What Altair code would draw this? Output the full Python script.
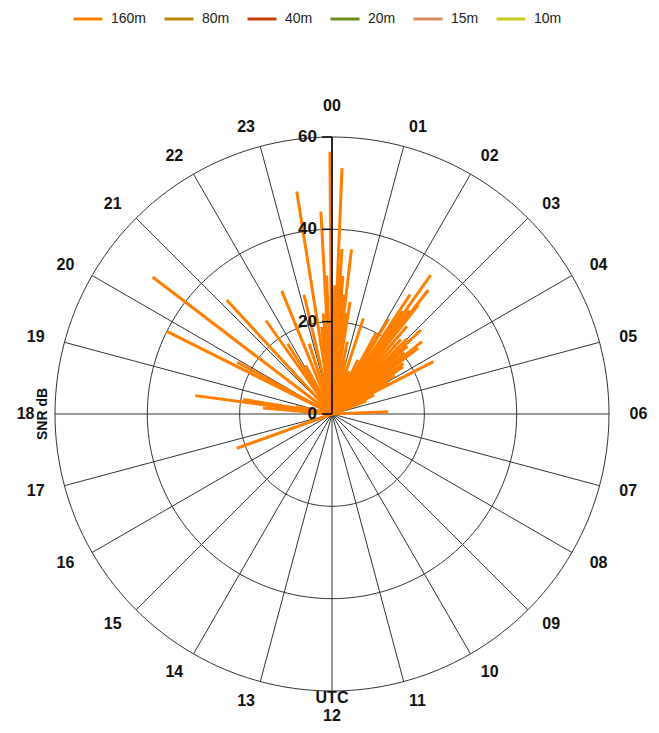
import altair as alt
import pandas as pd

# ---- data ----
spot_hours = [16.68, 18.33, 18.51, 18.62, 18.78, 19.77, 19.91, 20.49, 21.15, 21.65,
              21.85, 22.1, 22.52, 22.8, 23.12, 23.4, 23.55, 23.67, 23.79, 23.85, 23.97,
              0.04, 0.08, 0.155, 0.23, 0.3, 0.38, 0.45, 0.52, 0.61, 0.8, 0.95, 1.21,
              1.45, 1.7, 1.9, 2.05, 2.21, 2.3, 2.36, 2.45, 2.52, 2.56, 2.7, 2.85, 3.0,
              3.11, 3.2, 3.33, 3.41, 3.51, 3.65, 3.76, 3.9, 4.05, 4.18, 4.4, 4.6, 5.85]
spot_snr = [21.9, 15.0, 29.9, 19.5, 8.0, 40.0, 23.4, 48.9, 33.6, 24.8,
            18.0, 12.0, 28.8, 16.0, 26.5, 48.8, 19.0, 21.9, 43.9, 30.0, 56.8,
            24.0, 27.9, 53.3, 35.8, 30.0, 26.0, 35.9, 22.0, 24.6, 16.0, 12.0, 21.8,
            10.0, 13.0, 20.0, 24.0, 30.9, 27.0, 36.9, 28.0, 34.0, 30.1, 25.0, 22.0, 23.0,
            26.5, 22.0, 20.6, 25.0, 23.5, 19.0, 18.5, 16.0, 14.0, 24.7, 10.0, 8.0, 12.2]
spot_band = ["160m"] * len(spot_hours)

bands = ["160m", "80m", "40m", "20m", "15m", "10m"]
band_colors = ["#FF8000", "#B8860B", "#C4400C", "#6B8E23", "#D98B5A", "#C8C81E"]

hour_values = list(range(24))
hour_labels = [f"{h:02d}" for h in hour_values]
rings = [20, 40, 60]
radial_ticks = [0, 20, 40, 60]
ring_degrees = list(range(0, 362, 2))

# ---- scales: same px per unit in x and y ----
PX = 277 / 60.0
W, H = 640, 717
CX, CY = 324, 406
xs = alt.Scale(domain=[-CX / PX, (W - CX) / PX], nice=False, zero=False)
ys = alt.Scale(domain=[-(H - CY) / PX, CY / PX], nice=False, zero=False)
FONT = "Liberation Sans"

spots = pd.DataFrame({"hour": spot_hours, "snr": spot_snr, "band": spot_band})
hours_df = pd.DataFrame({"hour": hour_values, "label": hour_labels})
ring_df = pd.DataFrame([{"ring": r, "deg": d} for r in rings for d in ring_degrees])
tick_df = pd.DataFrame({"v": radial_ticks, "t": [str(v) for v in radial_ticks]})

circles = alt.Chart(ring_df).transform_calculate(
    x="datum.ring*sin(datum.deg*PI/180)", y="datum.ring*cos(datum.deg*PI/180)"
).mark_line(color="#333333", strokeWidth=1).encode(
    x=alt.X("x:Q", scale=xs, axis=None),
    y=alt.Y("y:Q", scale=ys, axis=None),
    detail="ring:N", order="deg:Q")

spokes = alt.Chart(hours_df).transform_calculate(
    x0="0", y0="0",
    x="60*sin(datum.hour*PI/12)", y="60*cos(datum.hour*PI/12)"
).mark_rule(color="#333333", strokeWidth=1).encode(
    x=alt.X("x0:Q", scale=xs, axis=None), y=alt.Y("y0:Q", scale=ys, axis=None),
    x2="x:Q", y2="y:Q")

lines = alt.Chart(spots).transform_calculate(
    x0="0", y0="0",
    x="datum.snr*sin(datum.hour*PI/12)", y="datum.snr*cos(datum.hour*PI/12)"
).mark_rule(strokeWidth=3).encode(
    x=alt.X("x0:Q", scale=xs, axis=None), y=alt.Y("y0:Q", scale=ys, axis=None),
    x2="x:Q", y2="y:Q",
    color=alt.Color("band:N", scale=alt.Scale(domain=bands, range=band_colors),
                    legend=alt.Legend(title=None, orient="none", legendX=64, legendY=-5,
                                      direction="horizontal", symbolType="stroke",
                                      symbolSize=841, symbolStrokeWidth=3,
                                      labelFont=FONT, labelFontSize=14, labelColor="#222222",
                                      labelOffset=7, columnPadding=11, padding=0)))

axis_line = alt.Chart(tick_df).transform_filter("datum.v == 60").transform_calculate(
    x0="0", y0="0").mark_rule(color="#000000", strokeWidth=1.5).encode(
    x=alt.X("x0:Q", scale=xs, axis=None), y=alt.Y("y0:Q", scale=ys, axis=None),
    y2="v:Q")

ticks = alt.Chart(tick_df).transform_calculate(
    xa=f"{-10 / PX}", xb="0").mark_rule(color="#000000", strokeWidth=1.5).encode(
    x=alt.X("xa:Q", scale=xs, axis=None), x2="xb:Q",
    y=alt.Y("v:Q", scale=ys, axis=None))

tick_labels = alt.Chart(tick_df).transform_calculate(x0="0").mark_text(
    align="right", baseline="middle", dx=-15, font=FONT, fontSize=17,
    fontWeight="bold", color="#111111").encode(
    x=alt.X("x0:Q", scale=xs, axis=None), y=alt.Y("v:Q", scale=ys, axis=None),
    text="t:N")

def hour_text(filter_expr, r, align):
    return alt.Chart(hours_df).transform_filter(filter_expr).transform_calculate(
        x=f"{r}*sin(datum.hour*PI/12)", y=f"{r}*cos(datum.hour*PI/12)"
    ).mark_text(align=align, baseline="middle", font=FONT, fontSize=16,
                fontWeight="bold", color="#111111").encode(
        x=alt.X("x:Q", scale=xs, axis=None), y=alt.Y("y:Q", scale=ys, axis=None),
        text="label:N")

RL = 297.5 / PX
right_labels = hour_text("datum.hour > 0 && datum.hour < 12", RL, "left")
left_labels = hour_text("datum.hour > 12", RL, "right")
top_label = hour_text("datum.hour == 0", 308.5 / PX, "center")
bottom_label = hour_text("datum.hour == 12", 302 / PX, "center")

utc = alt.Chart(pd.DataFrame({"t": ["UTC"]})).transform_calculate(
    x="0", y=f"{-284 / PX}").mark_text(
    align="center", baseline="middle", font=FONT, fontSize=16, fontWeight="bold",
    color="#111111").encode(
    x=alt.X("x:Q", scale=xs, axis=None), y=alt.Y("y:Q", scale=ys, axis=None), text="t:N")

snr_title = alt.Chart(pd.DataFrame({"t": ["SNR dB"]})).transform_calculate(
    x=f"{-289 / PX}", y="0").mark_text(
    align="center", baseline="middle", angle=270, font=FONT, fontSize=14,
    fontWeight="bold", color="#111111").encode(
    x=alt.X("x:Q", scale=xs, axis=None), y=alt.Y("y:Q", scale=ys, axis=None), text="t:N")

chart = alt.layer(
    circles, spokes, lines, axis_line, ticks, tick_labels,
    right_labels, left_labels, top_label, bottom_label, utc, snr_title
).properties(
    width=W, height=H, padding=0,
    autosize=alt.AutoSizeParams(type="none"),
    background="white"
).configure_view(stroke=None)

chart.save("out.html", embed_options={"renderer": "svg", "actions": False})
